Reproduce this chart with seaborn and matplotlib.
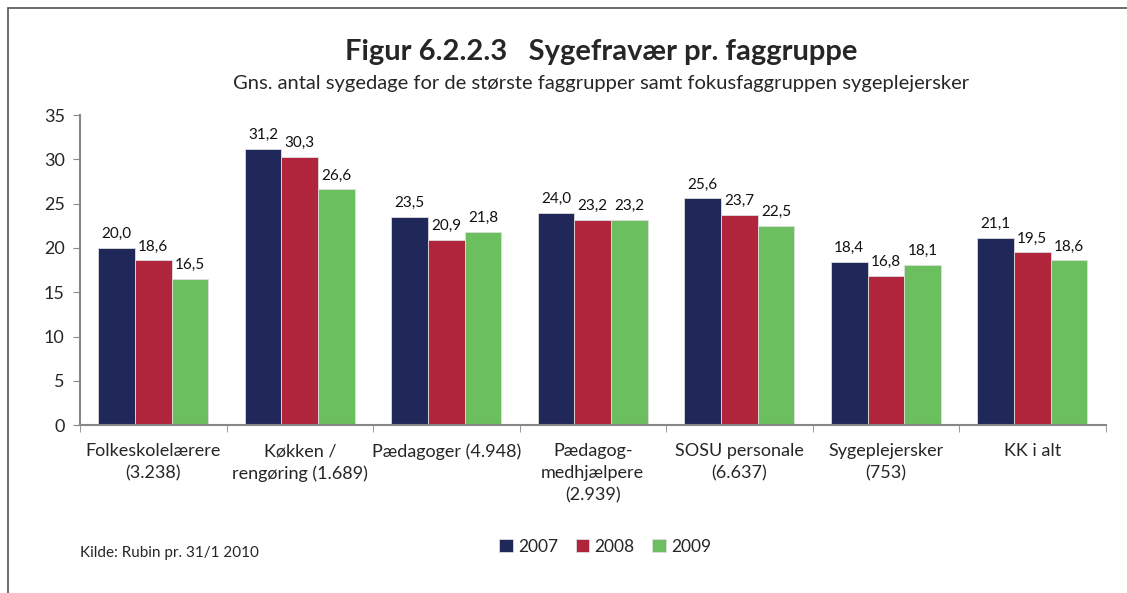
import pandas as pd
import matplotlib.pyplot as plt
import matplotlib.lines as mlines
import seaborn as sns

# data
groups = ["Folkeskolelærere\n(3.238)", "Køkken /\nrengøring (1.689)", "Pædagoger (4.948)",
          "Pædagog-\nmedhjælpere\n(2.939)", "SOSU personale\n(6.637)", "Sygeplejersker\n(753)", "KK i alt"]
years = ["2007", "2008", "2009"]
v2007 = [20.0, 31.2, 23.5, 24.0, 25.6, 18.4, 21.1]
v2008 = [18.6, 30.3, 20.9, 23.2, 23.7, 16.8, 19.5]
v2009 = [16.5, 26.6, 21.8, 23.2, 22.5, 18.1, 18.6]
colors = ["#1F2859", "#B0243C", "#6BBF5E"]

df = pd.DataFrame({
    "Faggruppe": groups * 3,
    "År": [y for y in years for _ in groups],
    "Dage": v2007 + v2008 + v2009,
})

sns.set_style("white")
plt.rcParams['font.family'] = ['Lato', 'DejaVu Sans']

fig = plt.figure(figsize=(11.27, 5.93), dpi=100)
ax = fig.add_axes([0.071, 0.283, 0.91, 0.523])

sns.barplot(data=df, x="Faggruppe", y="Dage", hue="År", palette=colors, saturation=1,
            width=0.75, edgecolor="#DDDDDD", linewidth=0.6, ax=ax)

for cont in ax.containers:
    labs = [f"{b.get_height():.1f}".replace(".", ",") for b in cont]
    ax.bar_label(cont, labels=labs, padding=5, fontsize=11, color="#111111")

ax.set_ylim(0, 35)
ax.set_yticks(range(0, 36, 5))
ax.set_xlim(-0.5, 6.5)
ax.set_xlabel("")
ax.set_ylabel("")
ax.tick_params(axis="y", labelsize=13, length=5, color="#888888", left=True, pad=6)
ax.tick_params(axis="x", labelsize=13, length=0, pad=13)
for lab in ax.get_xticklabels():
    lab.set_linespacing(1.45)
ax.set_xticks([i - 0.5 for i in range(8)], minor=True)
ax.tick_params(axis="x", which="minor", length=5, color="#888888", bottom=True)
for s in ["top", "right"]:
    ax.spines[s].set_visible(False)
for s in ["left", "bottom"]:
    ax.spines[s].set_color("#888888")
    ax.spines[s].set_linewidth(1.5)

handles, labels = ax.get_legend_handles_labels()
ax.get_legend().remove()
fig.legend(handles, labels, loc="center", bbox_to_anchor=(0.537, 0.078), ncol=3, frameon=False,
           fontsize=12.5, handlelength=0.8, handleheight=0.8, handletextpad=0.3, columnspacing=1.0)

fig.text(0.533, 0.913, "Figur 6.2.2.3   Sygefravær pr. faggruppe", ha="center", va="center",
         fontsize=21, fontweight="bold")
fig.text(0.533, 0.86, "Gns. antal sygedage for de største faggrupper samt fokusfaggruppen sygeplejersker",
         ha="center", va="center", fontsize=14.5)
fig.text(0.071, 0.067, "Kilde: Rubin pr. 31/1 2010", ha="left", va="center", fontsize=11)

fig.add_artist(mlines.Line2D([0.007, 1.0], [0.986, 0.986], color="#555555", lw=1.2))
fig.add_artist(mlines.Line2D([0.007, 0.007], [0.0, 0.986], color="#555555", lw=1.2))

fig.savefig("out.png", dpi=100)
